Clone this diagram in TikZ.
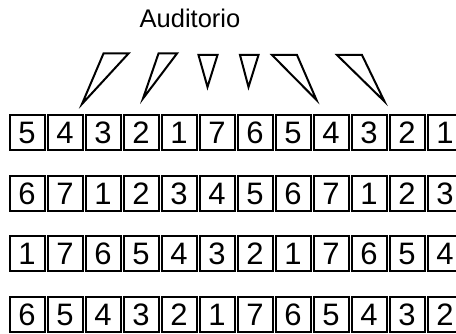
\documentclass[tikz,border=0pt]{standalone}
\usepackage{fontspec}
\setmainfont{Liberation Sans}
\usepackage{tikz}

\begin{document}
\begin{tikzpicture}[x=1pt,y=1pt,
  seat/.style={draw, line width=2pt, minimum width=35pt, minimum height=35pt,
    inner sep=0pt, font=\fontsize{31}{31}\selectfont},
  horn/.style={draw, line width=2pt, line join=miter}]
\useasboundingbox (0,0) rectangle (456,334);
\node[font=\fontsize{25.5}{25.5}\selectfont, anchor=base] (title) at (190,306) {Auditorio};
% sound horns
\foreach \ax/\bx/\ty/\cx/\cy in {103.5/128.5/280.5/82/230, 158.5/177/280.5/143/235.5,
    198.5/217.5/279/207.5/247, 240/258.5/279/248.5/247,
    272/297/279/316.5/234, 337/362/279/384.5/232.5}
  \draw[horn] (\ax,\ty) -- (\bx,\ty) -- (\cx,\cy) -- cycle;
% rows of seats
\foreach \r/\y/\seq in {a/201/{5,4,3,2,1,7,6,5,4,3,2,1},
    b/140/{6,7,1,2,3,4,5,6,7,1,2,3},
    c/80/{1,7,6,5,4,3,2,1,7,6,5,4},
    d/19/{6,5,4,3,2,1,7,6,5,4,3,2}}
  \foreach \d [count=\i from 0] in \seq
    \node[seat] (\r\i) at ({27+38*\i},\y) {\d};
\end{tikzpicture}
\end{document}
